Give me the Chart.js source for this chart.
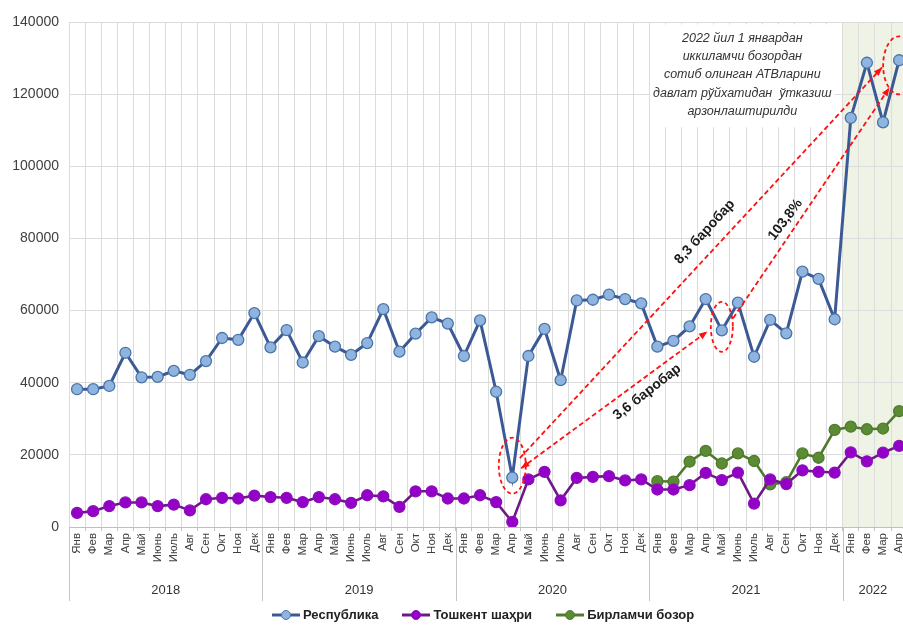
<!DOCTYPE html>
<html>
<head>
<meta charset="utf-8">
<script src="https://cdn.jsdelivr.net/npm/chart.js@4.4.1/dist/chart.umd.min.js"></script>
<style>
  html, body { margin: 0; padding: 0; background: #fff; overflow: hidden; }
  #wrap { position: relative; width: 915px; height: 626px; }
  #legend { position: absolute; left: 272px; top: 607px; display: flex; gap: 24px;
            font: bold 13px Arial, "Liberation Sans", sans-serif; color: #222; }
  #legend span { display: flex; align-items: center; gap: 3px; }
</style>
</head>
<body>
<div id="wrap">
  <canvas id="chart" width="915" height="626"></canvas>
  <div id="legend"></div>
</div>
<script>
const months = ['Янв','Фев','Мар','Апр','Май','Июнь','Июль','Авг','Сен','Окт','Ноя','Дек'];
const years = ['2018','2019','2020','2021','2022'];
const labels = [
  ...months, ...months, ...months, ...months,
  'Янв','Фев','Мар','Апр'
];

const respublika = [
  38200, 38200, 39100, 48300, 41500, 41600, 43300, 42200, 46000, 52400, 51900, 59300,
  49800, 54600, 45600, 52900, 50000, 47700, 51000, 60400, 48600, 53600, 58100, 56400,
  47400, 57300, 37500, 13700, 47400, 54900, 40700, 62800, 63000, 64400, 63200, 62000,
  50000, 51600, 55600, 63200, 54500, 62200, 47200, 57400, 53700, 70800, 68800, 57600,
  113400, 128700, 112200, 129400
];
const toshkent = [
  3900, 4400, 5800, 6800, 6800, 5800, 6200, 4600, 7700, 8100, 7900, 8700,
  8300, 8100, 6900, 8300, 7700, 6700, 8800, 8500, 5600, 9900, 9900, 7900,
  7900, 8800, 6900, 1400, 13200, 15300, 7400, 13600, 13900, 14100, 12900, 13200,
  10400, 10400, 11600, 15000, 13000, 15100, 6500, 13200, 11900, 15700, 15300, 15100,
  20700, 18200, 20600, 22500
];
const birlamchi = [
  null, null, null, null, null, null, null, null, null, null, null, null,
  null, null, null, null, null, null, null, null, null, null, null, null,
  null, null, null, null, null, null, null, null, null, null, null, null,
  12700, 12600, 18100, 21100, 17600, 20400, 18300, 11800, 12400, 20400, 19200, 26900,
  27800, 27100, 27300, 32100
];

const seriesNames = ['Республика', 'Тошкент шаҳри', 'Бирламчи бозор'];
const lineColors = ['#3b5a95', '#6e1a86', '#4f7a2e'];
const pointFills = ['#8fb4df', '#9400c8', '#5b8c33'];
const pointBorders = ['#4a74a8', '#8a10b8', '#4f7a2e'];

const noteLines = [
  '2022 йил 1 январдан',
  'иккиламчи бозордан',
  'сотиб олинган АТВларини',
  'давлат рўйхатидан  ўтказиш',
  'арзонлаштирилди'
];

const FONT = 'Arial, "Liberation Sans", sans-serif';

// helper: arrow line with dashed stroke and solid head
function arrowHead(ctx, x0, y0, x1, y1) {
  const a = Math.atan2(y1 - y0, x1 - x0);
  ctx.beginPath();
  ctx.moveTo(x1, y1);
  ctx.lineTo(x1 - 9 * Math.cos(a - 0.38), y1 - 9 * Math.sin(a - 0.38));
  ctx.lineTo(x1 - 9 * Math.cos(a + 0.38), y1 - 9 * Math.sin(a + 0.38));
  ctx.closePath();
  ctx.fill();
}
function dashedArrow(ctx, x0, y0, x1, y1, both) {
  ctx.save();
  ctx.setLineDash([5, 3]);
  ctx.beginPath();
  ctx.moveTo(x0, y0);
  ctx.lineTo(x1, y1);
  ctx.stroke();
  ctx.setLineDash([]);
  arrowHead(ctx, x0, y0, x1, y1);
  if (both) arrowHead(ctx, x1, y1, x0, y0);
  ctx.restore();
}

const decorPlugin = {
  id: 'decor',
  beforeDraw(chart) {
    const {ctx, chartArea: a, scales: {x}} = chart;
    const half = (x.getPixelForValue(1) - x.getPixelForValue(0)) / 2;
    const x0 = x.getPixelForValue(48) - half;
    ctx.save();
    ctx.fillStyle = '#eef3e6';
    ctx.fillRect(x0, a.top, a.right - x0, a.bottom - a.top);
    ctx.restore();
  },
  beforeDatasetsDraw(chart) {
    const {ctx, chartArea: a, scales: {x, y}} = chart;
    const half = (x.getPixelForValue(1) - x.getPixelForValue(0)) / 2;
    // year row under month labels
    ctx.save();
    ctx.strokeStyle = '#c4c4c4';
    ctx.lineWidth = 1;
    ctx.fillStyle = '#333';
    ctx.font = '13px ' + FONT;
    ctx.textAlign = 'center';
    ctx.textBaseline = 'middle';
    years.forEach((yr, g) => {
      const s = g * 12;
      const e = Math.min(s + 11, labels.length - 1);
      const l = x.getPixelForValue(s) - half;
      const r = x.getPixelForValue(e) + half;
      ctx.beginPath();
      ctx.moveTo(Math.round(l) + 0.5, a.bottom);
      ctx.lineTo(Math.round(l) + 0.5, 601);
      ctx.stroke();
      ctx.fillText(yr, (l + Math.min(r, 903)) / 2, 590);
    });
    // note box
    const bl = x.getPixelForValue(35.56), br = x.getPixelForValue(46.98);
    const bt = y.getPixelForValue(139300), bb = y.getPixelForValue(110800);
    ctx.fillStyle = '#fff';
    ctx.fillRect(bl, bt, br - bl, bb - bt);
    ctx.fillStyle = '#333';
    ctx.font = 'italic 12.5px ' + FONT;
    const cx = (bl + br) / 2;
    noteLines.forEach((t, i) => ctx.fillText(t, cx, bt + 14 + i * 18.2));
    ctx.restore();
  },
  afterDatasetsDraw(chart) {
    const {ctx, scales: {x, y}} = chart;
    const P = (i, v) => [x.getPixelForValue(i), y.getPixelForValue(v)];
    ctx.save();
    ctx.strokeStyle = '#ff1010';
    ctx.fillStyle = '#ff1010';
    ctx.lineWidth = 1.8;
    // dashed ellipses
    [[27, 17000, 13.5, 28], [40, 55500, 11, 25], [51, 128000, 16, 29]].forEach(([i, v, rx, ry]) => {
      const [cx, cy] = P(i, v);
      ctx.setLineDash([4, 3]);
      ctx.beginPath();
      ctx.ellipse(cx, cy, rx, ry, 0, 0, Math.PI * 2);
      ctx.stroke();
    });
    ctx.setLineDash([]);
    dashedArrow(ctx, ...P(27.47, 19100), ...P(49.94, 127400), false);
    dashedArrow(ctx, ...P(27.55, 16300), ...P(39.1, 54200), true);
    dashedArrow(ctx, ...P(40.7, 57900), ...P(50.4, 121800), false);
    // rotated labels
    ctx.fillStyle = '#1a1a1a';
    ctx.font = 'bold 14px ' + FONT;
    ctx.textAlign = 'center';
    ctx.textBaseline = 'middle';
    [['8,3 баробар', 38.95, 81800, -47.5], ['103,8%', 43.95, 85200, -53], ['3,6 баробар', 35.37, 37400, -38]]
      .forEach(([t, i, v, deg]) => {
        const [px, py] = P(i, v);
        ctx.save();
        ctx.translate(px, py);
        ctx.rotate(deg * Math.PI / 180);
        ctx.fillText(t, 0, 0);
        ctx.restore();
      });
    ctx.restore();
  }
};

const seriesData = [respublika, toshkent, birlamchi];
const datasets = seriesData.map((d, k) => ({
  label: seriesNames[k],
  data: d,
  borderColor: lineColors[k],
  borderWidth: k === 0 ? 3 : 2.6,
  pointBackgroundColor: pointFills[k],
  pointBorderColor: pointBorders[k],
  pointBorderWidth: 1.3,
  pointRadius: 5.5,
  pointHoverRadius: 5.5,
  tension: 0,
  spanGaps: false
}));

new Chart(document.getElementById('chart'), {
  type: 'line',
  data: { labels: labels, datasets: datasets },
  plugins: [decorPlugin],
  options: {
    responsive: false,
    animation: false,
    layout: { padding: { top: 22, right: 3.6, left: 0, bottom: 0 } },
    plugins: { legend: { display: false }, tooltip: { enabled: false } },
    scales: {
      x: {
        offset: true,
        grid: { offset: true, color: '#dcdcdc', tickLength: 4, tickColor: '#c4c4c4' },
        border: { color: '#bfbfbf' },
        ticks: {
          autoSkip: false, minRotation: 90, maxRotation: 90, padding: 2,
          color: '#404040', font: { family: FONT, size: 11.5 }
        },
        afterFit: s => { s.height = 99; }
      },
      y: {
        min: 0, max: 140000,
        grid: { color: '#dcdcdc', drawTicks: false },
        border: { display: false },
        ticks: {
          stepSize: 20000, padding: 10, color: '#404040', font: { family: FONT, size: 14 },
          callback: v => String(v)
        },
        afterFit: s => { s.width = 69; }
      }
    }
  }
});

// legend below the chart
const legend = document.getElementById('legend');
seriesNames.forEach((name, k) => {
  const item = document.createElement('span');
  item.innerHTML =
    `<svg width="28" height="12"><line x1="0" y1="6" x2="28" y2="6" stroke="${lineColors[k]}" stroke-width="3"/>` +
    `<circle cx="14" cy="6" r="4.5" fill="${pointFills[k]}" stroke="${pointBorders[k]}" stroke-width="1"/></svg>` + name;
  legend.appendChild(item);
});
</script>
</body>
</html>
